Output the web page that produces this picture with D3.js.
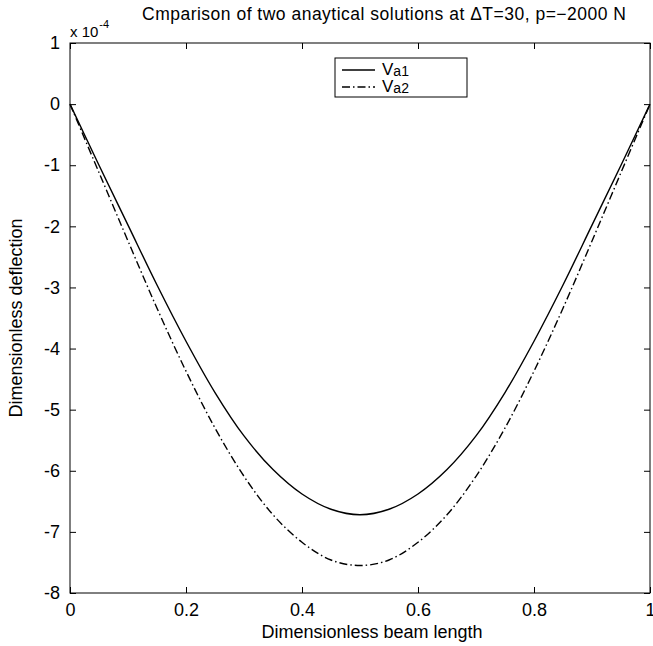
<!DOCTYPE html>
<html>
<head>
<meta charset="utf-8">
<script src="https://cdn.jsdelivr.net/npm/d3@7"></script>
<style>
  body { margin: 0; background: #fff; }
  svg { font-family: "Liberation Sans", Arial, sans-serif; }
</style>
</head>
<body>
<div id="container"></div>
<script>
/** CONSTANTS AND GLOBALS */
const width = 653,
  height = 646,
  margin = { top: 43, bottom: 53, left: 70, right: 3 };

// beam position (dimensionless)
const beamX = [0, 0.05, 0.1, 0.15, 0.2, 0.25, 0.3, 0.35, 0.4, 0.45, 0.5,
  0.55, 0.6, 0.65, 0.7, 0.75, 0.8, 0.85, 0.9, 0.95, 1];
// deflections, in units of 1e-4
const va1 = [0, -1.0, -1.98, -2.96, -3.88, -4.72, -5.43, -5.98, -6.38, -6.63, -6.72,
  -6.63, -6.38, -5.98, -5.43, -4.72, -3.88, -2.96, -1.98, -1.0, 0];
const va2 = [0, -1.12, -2.24, -3.34, -4.37, -5.30, -6.09, -6.72, -7.17, -7.46, -7.55,
  -7.46, -7.17, -6.72, -6.09, -5.30, -4.37, -3.34, -2.24, -1.12, 0];

const xTicks = [0, 0.2, 0.4, 0.6, 0.8, 1];
const yTicks = [1, 0, -1, -2, -3, -4, -5, -6, -7, -8];

const series = [
  { name: "a1", values: va1, dash: null },
  { name: "a2", values: va2, dash: "8,3,1.5,3" }
];

const svg = d3.select("#container")
  .append("svg")
  .attr("width", width)
  .attr("height", height);

const x = d3.scaleLinear().domain([0, 1]).range([margin.left, width - margin.right]);
const y = d3.scaleLinear().domain([-8, 1]).range([height - margin.bottom, margin.top]);

const tickLen = 6;

// axes, ticks inward, plain hyphen for negatives like the original
const xAxis = d3.axisBottom(x).tickValues(xTicks).tickSize(-tickLen).tickPadding(10)
  .tickFormat(d => String(d));
const yAxis = d3.axisLeft(y).tickValues(yTicks).tickSize(-tickLen).tickPadding(10)
  .tickFormat(d => String(d));

svg.append("g")
  .attr("transform", `translate(0,${y(-8)})`)
  .call(xAxis)
  .call(g => g.select(".domain").remove());
svg.append("g")
  .attr("transform", `translate(${x(0)},0)`)
  .call(yAxis)
  .call(g => g.select(".domain").remove());
// top and right ticks (no labels)
svg.append("g")
  .attr("transform", `translate(0,${y(1)})`)
  .call(d3.axisTop(x).tickValues(xTicks).tickSize(-tickLen).tickFormat(""))
  .call(g => g.select(".domain").remove());
svg.append("g")
  .attr("transform", `translate(${x(1)},0)`)
  .call(d3.axisRight(y).tickValues(yTicks).tickSize(-tickLen).tickFormat(""))
  .call(g => g.select(".domain").remove());

svg.selectAll(".tick text")
  .attr("font-size", 18)
  .attr("font-family", "Liberation Sans, Arial, sans-serif")
  .attr("fill", "#000");
svg.selectAll(".tick line").attr("stroke", "#000");

// box
svg.append("rect")
  .attr("x", x(0))
  .attr("y", y(1))
  .attr("width", x(1) - x(0))
  .attr("height", y(-8) - y(1))
  .attr("fill", "none")
  .attr("stroke", "#000")
  .attr("stroke-width", 1);

// curves
const line = d3.line()
  .x((d, i) => x(beamX[i]))
  .y(d => y(d))
  .curve(d3.curveCatmullRom);

svg.selectAll(".curve")
  .data(series)
  .join("path")
  .attr("class", "curve")
  .attr("d", d => line(d.values))
  .attr("fill", "none")
  .attr("stroke", "#000")
  .attr("stroke-width", 1.4)
  .attr("stroke-dasharray", d => d.dash);

// exponent label
const expo = svg.append("text")
  .attr("x", x(0))
  .attr("y", 37)
  .attr("font-size", 15);
expo.append("tspan").text("x 10");
expo.append("tspan").attr("font-size", 11).attr("dy", -9).attr("dx", 1).text("-4");

// title
svg.append("text")
  .attr("x", 384)
  .attr("y", 20)
  .attr("text-anchor", "middle")
  .attr("font-size", 17.5)
  .attr("textLength", 484)
  .attr("lengthAdjust", "spacing")
  .text("Cmparison of two anaytical solutions at \u0394T=30, p=\u22122000 N");

// axis labels
svg.append("text")
  .attr("x", 372)
  .attr("y", 638)
  .attr("text-anchor", "middle")
  .attr("font-size", 18)
  .text("Dimensionless beam length");

svg.append("text")
  .attr("transform", `translate(22,${(y(1) + y(-8)) / 2}) rotate(-90)`)
  .attr("text-anchor", "middle")
  .attr("font-size", 18)
  .text("Dimensionless deflection");

// legend
const legend = svg.append("g").attr("transform", "translate(335,58)");
legend.append("rect")
  .attr("width", 132)
  .attr("height", 39)
  .attr("fill", "#fff")
  .attr("stroke", "#000");
const items = legend.selectAll(".item")
  .data(series)
  .join("g")
  .attr("class", "item")
  .attr("transform", (d, i) => `translate(0,${12 + i * 17})`);
items.append("line")
  .attr("x1", 7).attr("x2", 40)
  .attr("stroke", "#000")
  .attr("stroke-width", 1.4)
  .attr("stroke-dasharray", d => d.dash);
const lt = items.append("text")
  .attr("x", 47)
  .attr("y", 5)
  .attr("font-size", 17);
lt.append("tspan").text("V");
lt.append("tspan").attr("font-size", 14).attr("dy", 1).text(d => d.name);
</script>
</body>
</html>
